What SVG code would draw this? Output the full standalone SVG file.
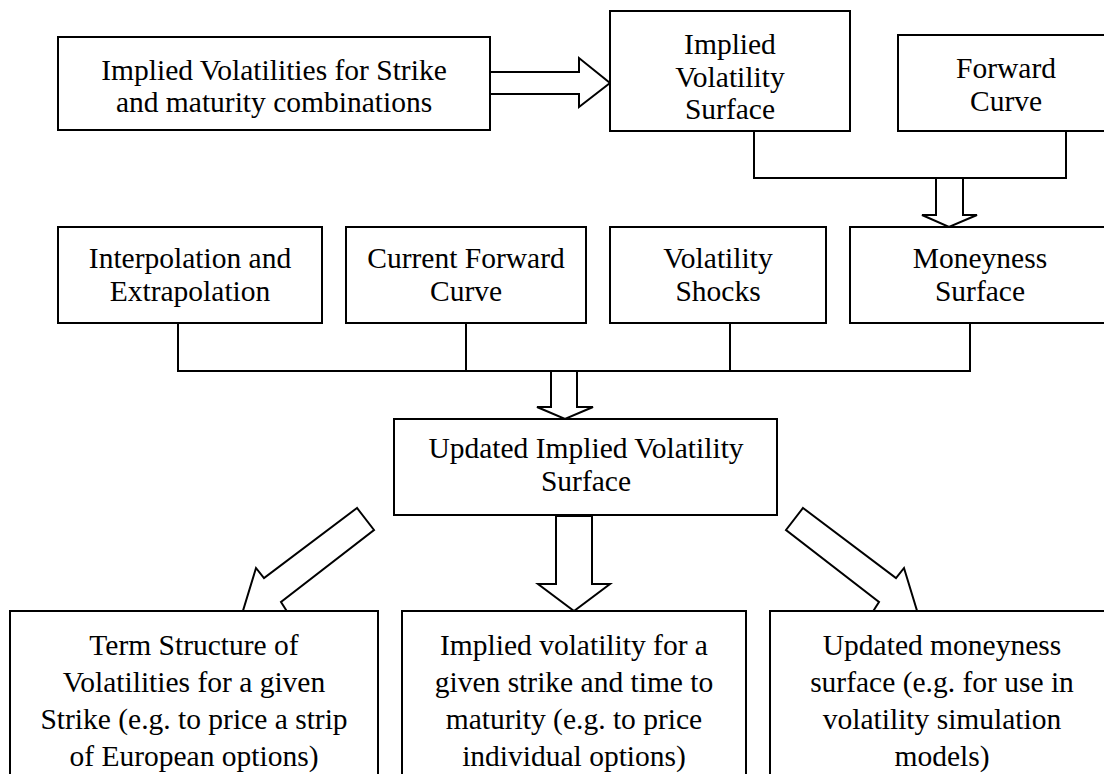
<svg xmlns="http://www.w3.org/2000/svg" width="1104" height="774" viewBox="0 0 1104 774">
<style>
.box{fill:#fff;stroke:#000;stroke-width:2}
.t{font-family:"Liberation Serif","Times New Roman",serif;font-size:29.5px;fill:#000;text-anchor:middle}
.ln{fill:none;stroke:#000;stroke-width:2}
.ba{fill:#fff;stroke:#000;stroke-width:2;stroke-linejoin:miter}
</style>
<rect x="0" y="0" width="1104" height="774" fill="#fff"/>
<g id="connectors">
<polyline class="ln" points="754,131 754,178 1066,178 1066,131"/>
<polyline class="ln" points="178,323 178,371 970,371 970,323"/>
<line class="ln" x1="466" y1="323" x2="466" y2="371"/>
<line class="ln" x1="730" y1="323" x2="730" y2="371"/>
<polygon class="ba" points="490,72 579,72 579,58 610,83 579,107 579,94 490,94"/>
<polygon class="ba" points="936,178 963,178 963,215 977,215 949,227 922,215 936,215"/>
<polygon class="ba" points="551,371 577,371 577,407 593,407 565,419 537,407 551,407"/>
<polygon class="ba" points="556,516 592,516 592,584 610,584 574,611 538,584 556,584"/>
<polygon class="ba" points="803,508 896,578 904,568 918,614 872,613 879,602 786,530"/>
<polygon class="ba" points="357,508 264,578 256,568 242,614 288,613 281,602 374,530"/>
</g>
<g id="n1">
<rect class="box" x="58" y="37" width="432" height="93"/>
<text class="t" x="274" y="80">Implied Volatilities for Strike</text>
<text class="t" x="274" y="112">and maturity combinations</text>
</g>
<g id="n2">
<rect class="box" x="610" y="11" width="240" height="120"/>
<text class="t" x="730" y="54">Implied</text>
<text class="t" x="730" y="87">Volatility</text>
<text class="t" x="730" y="119">Surface</text>
</g>
<g id="n3">
<rect class="box" x="898" y="35" width="216" height="96"/>
<text class="t" x="1006" y="78">Forward</text>
<text class="t" x="1006" y="111">Curve</text>
</g>
<g id="n4">
<rect class="box" x="58" y="227" width="264" height="96"/>
<text class="t" x="190" y="268">Interpolation and</text>
<text class="t" x="190" y="301">Extrapolation</text>
</g>
<g id="n5">
<rect class="box" x="346" y="227" width="240" height="96"/>
<text class="t" x="466" y="268">Current Forward</text>
<text class="t" x="466" y="301">Curve</text>
</g>
<g id="n6">
<rect class="box" x="610" y="227" width="216" height="96"/>
<text class="t" x="718" y="268">Volatility</text>
<text class="t" x="718" y="301">Shocks</text>
</g>
<g id="n7">
<rect class="box" x="850" y="227" width="264" height="96"/>
<text class="t" x="980" y="268">Moneyness</text>
<text class="t" x="980" y="301">Surface</text>
</g>
<g id="n8">
<rect class="box" x="394" y="419" width="383" height="96"/>
<text class="t" x="586" y="458">Updated Implied Volatility</text>
<text class="t" x="586" y="491">Surface</text>
</g>
<g id="n9">
<rect class="box" x="10" y="611" width="368" height="170"/>
<text class="t" x="194" y="655">Term Structure of</text>
<text class="t" x="194" y="692">Volatilities for a given</text>
<text class="t" x="194" y="729">Strike (e.g. to price a strip</text>
<text class="t" x="194" y="766">of European options)</text>
</g>
<g id="n10">
<rect class="box" x="402" y="611" width="344" height="170"/>
<text class="t" x="574" y="655">Implied volatility for a</text>
<text class="t" x="574" y="692">given strike and time to</text>
<text class="t" x="574" y="729">maturity (e.g. to price</text>
<text class="t" x="574" y="766">individual options)</text>
</g>
<g id="n11">
<rect class="box" x="770" y="611" width="344" height="170"/>
<text class="t" x="942" y="655">Updated moneyness</text>
<text class="t" x="942" y="692">surface (e.g. for use in</text>
<text class="t" x="942" y="729">volatility simulation</text>
<text class="t" x="942" y="766">models)</text>
</g>
</svg>
